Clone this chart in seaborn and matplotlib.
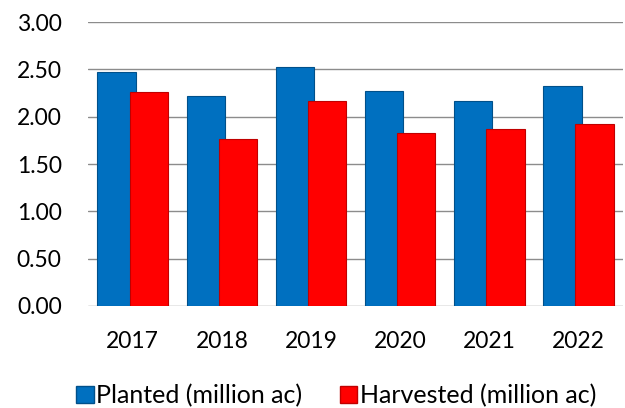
import pandas as pd
import matplotlib.pyplot as plt
import seaborn as sns

# values
years = ['2017', '2018', '2019', '2020', '2021', '2022']
planted = [2.47, 2.22, 2.52, 2.27, 2.17, 2.32]
harvested = [2.26, 1.76, 2.17, 1.83, 1.87, 1.92]
series_names = ['Planted (million ac)', 'Harvested (million ac)']
series_colors = ['#0070C0', '#FF0000']
edge_colors = ['#00508A', '#C00000']

df = pd.DataFrame({
    'year': years * 2,
    'value': planted + harvested,
    'series': [series_names[0]] * len(years) + [series_names[1]] * len(years),
})

sns.set_style('white')
plt.rcParams['font.family'] = ['Lato', 'DejaVu Sans']
plt.rcParams['text.color'] = 'black'
plt.rcParams['xtick.color'] = 'black'
plt.rcParams['ytick.color'] = 'black'

fig, ax = plt.subplots(figsize=(6.25, 4.08), dpi=100)
fig.subplots_adjust(left=0.141, right=0.997, top=0.946, bottom=0.25)

sns.barplot(data=df, x='year', y='value', hue='series', palette=series_colors,
            saturation=1, width=0.8, ax=ax, legend=False, zorder=3)

# bars of a pair overlap slightly, as in the original
for i, bar in enumerate(ax.patches[:len(years) * 2]):
    s = i // len(years)
    xi = i % len(years)
    w = 0.43
    cx = xi + (-0.18 if s == 0 else 0.18)
    bar.set_x(cx - w / 2)
    bar.set_width(w)
    bar.set_edgecolor(edge_colors[s])
    bar.set_linewidth(0.8)
    bar.set_zorder(3 + s)

ax.set_ylim(0, 3.0)
ax.set_yticks([0, 0.5, 1.0, 1.5, 2.0, 2.5, 3.0])
ax.set_yticklabels([f'{v:.2f}' for v in ax.get_yticks()])
ax.yaxis.grid(True, color='#8C8C8C', linewidth=1.0, zorder=0)
ax.set_axisbelow(True)
for sp in ax.spines.values():
    sp.set_visible(False)
ax.tick_params(axis='both', length=0, labelsize=16.5)
ax.tick_params(axis='x', pad=18)
ax.tick_params(axis='y', pad=19)
ax.set_xlabel('')
ax.set_ylabel('')
ax.set_xlim(-0.5, 5.5)

handles = [plt.Rectangle((0, 0), 1, 1, facecolor=c, edgecolor=e)
           for c, e in zip(series_colors, edge_colors)]
fig.legend(handles, series_names, loc='center', ncol=2, frameon=False,
           fontsize=18, handlelength=0.7, handleheight=0.7, handletextpad=0.1,
           columnspacing=1.5, borderpad=0, bbox_to_anchor=(0.538, 0.03))

fig.savefig('out.png', dpi=100)
